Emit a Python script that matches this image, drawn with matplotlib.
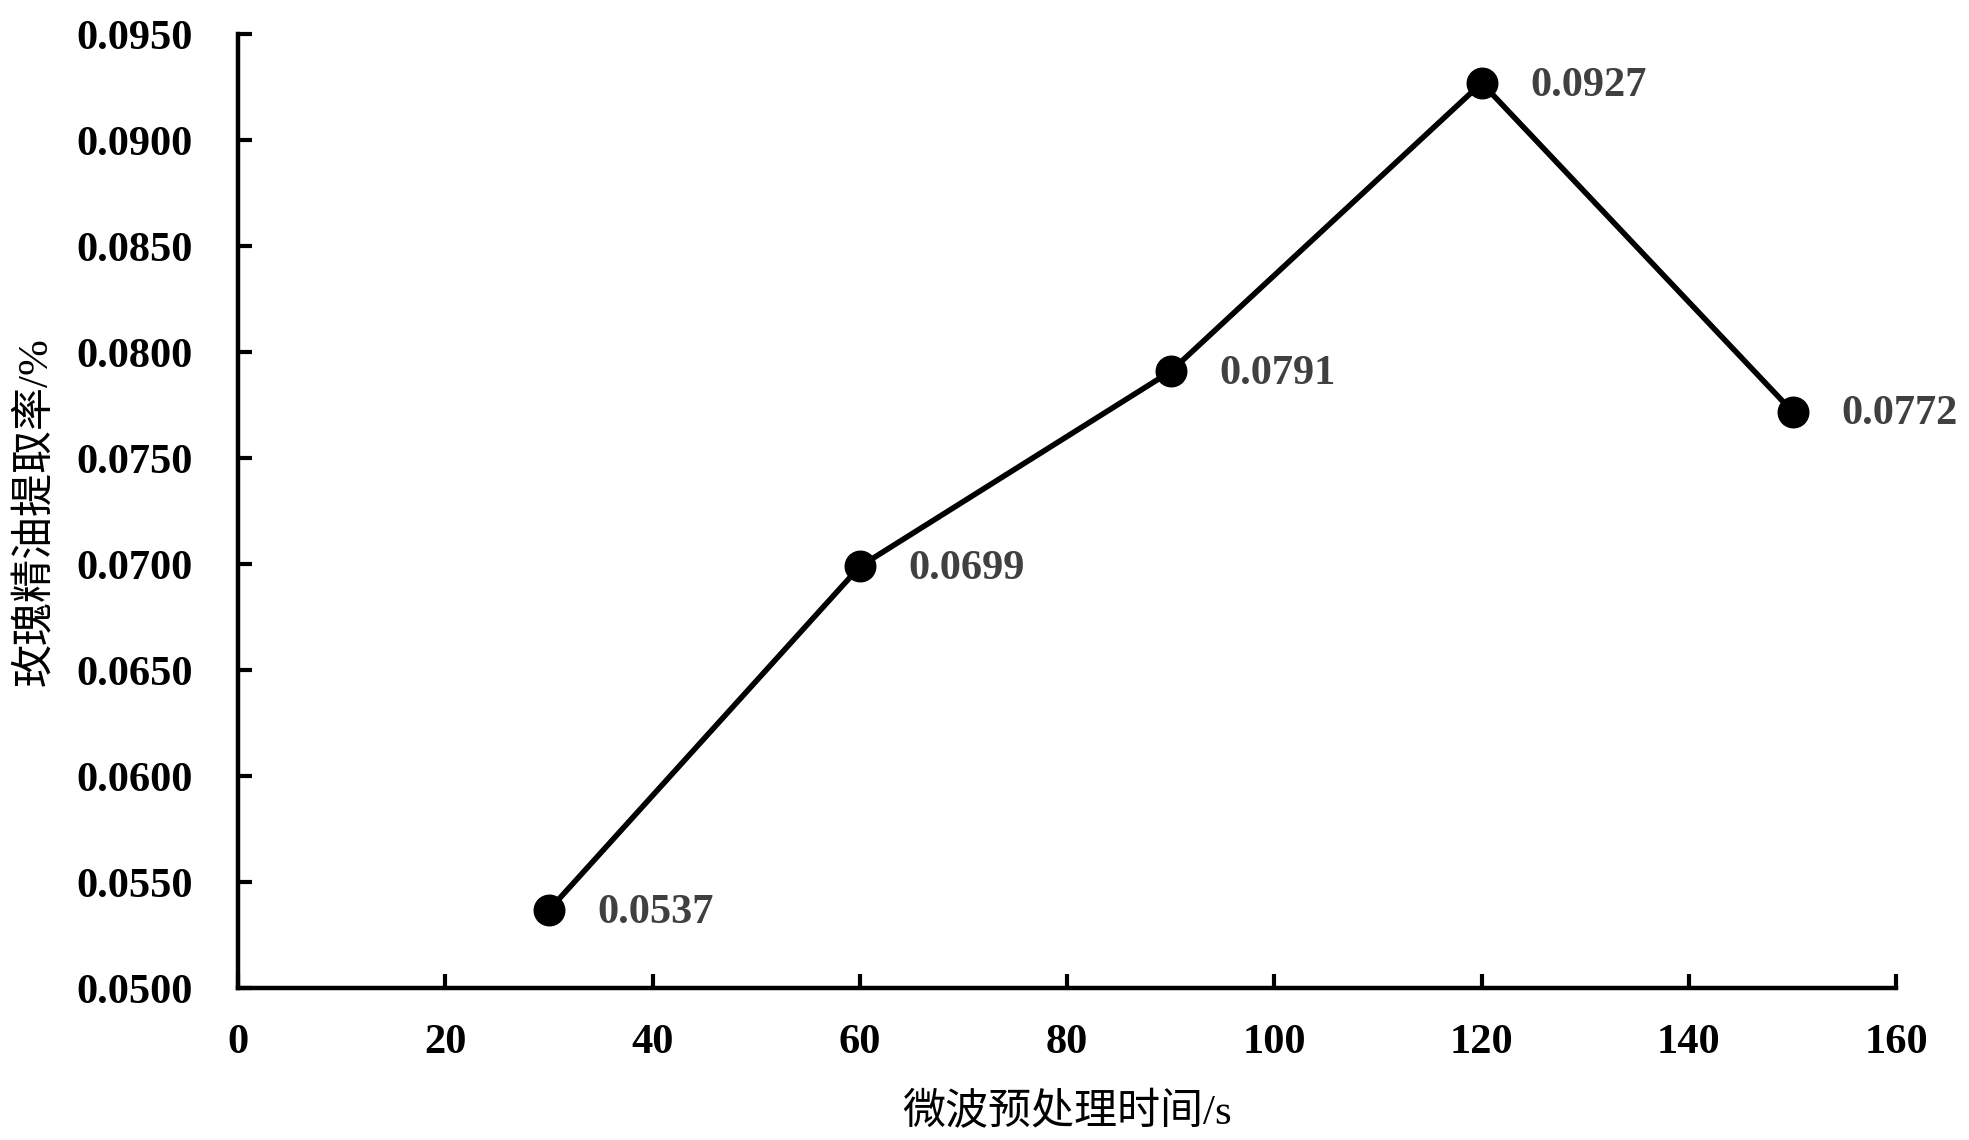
import matplotlib.pyplot as plt
from matplotlib.ticker import FormatStrFormatter, MultipleLocator

# data
times = [30, 60, 90, 120, 150]
yields = [0.0537, 0.0699, 0.0791, 0.0927, 0.0772]
value_labels = ["0.0537", "0.0699", "0.0791", "0.0927", "0.0772"]

x_label = "微波预处理时间/s"
y_label = "玫瑰精油提取率/%"

FONTS = ["Liberation Serif", "Noto Sans CJK SC"]
plt.rcParams["font.family"] = FONTS

fig = plt.figure(figsize=(19.69, 11.40), dpi=100)
ax = fig.add_axes([0.121, 0.133, 0.842, 0.837])

ax.plot(times, yields, color="black", linewidth=4, marker="o",
        markersize=22, markerfacecolor="black", markeredgecolor="black")

for t, v, lab in zip(times, yields, value_labels):
    ax.annotate(lab, (t, v), xytext=(35, -2), textcoords="offset points",
                ha="left", va="center", fontsize=30.5, fontweight="bold",
                color="#404040")

ax.set_xlim(0, 160)
ax.set_ylim(0.05, 0.095)
ax.xaxis.set_major_locator(MultipleLocator(20))
ax.yaxis.set_major_locator(MultipleLocator(0.005))
ax.yaxis.set_major_formatter(FormatStrFormatter("%.4f"))

for side in ["top", "right"]:
    ax.spines[side].set_visible(False)
for side in ["left", "bottom"]:
    ax.spines[side].set_linewidth(3.2)

ax.tick_params(axis="both", direction="in", length=10, width=3,
               labelsize=30.5)
ax.tick_params(axis="y", pad=33)
ax.tick_params(axis="x", pad=26)
for lbl in ax.get_xticklabels() + ax.get_yticklabels():
    lbl.set_fontweight("bold")

ax.set_xlabel(x_label, fontsize=31)
ax.set_ylabel(y_label, fontsize=31)
ax.xaxis.set_label_coords(0.5, -0.11)
ax.yaxis.set_label_coords(-0.11, 0.5)

fig.savefig("out.png", dpi=100)
